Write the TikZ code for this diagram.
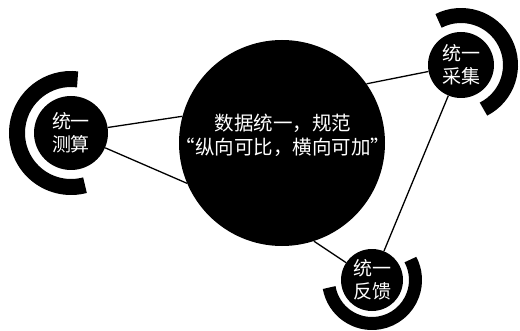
\documentclass[tikz,border=0pt]{standalone}
\usepackage{fontspec}
\setmainfont{Noto Sans CJK SC}
\begin{document}
\begin{tikzpicture}[x=1pt, y=1pt,
    disc/.style={circle, fill=black, text=white, inner sep=0pt, align=center,
      font=\fontsize{19}{23}\selectfont},
    link/.style={line width=1.3pt},
    ring/.style={line width=#1}]
\useasboundingbox (0,0) rectangle (520,330);
\node[disc, minimum size=206pt] (big) at (282,187) {};
\node[text=white, align=center, inner sep=0pt, font=\fontsize{19.5}{24}\selectfont] (slogan) at (283,195) {数据统一，规范\\“纵向可比，横向可加”};
\node[disc, minimum size=74pt] (lt) at (71,197) {统一\\测算};
\node[disc, minimum size=66pt] (tr) at (461,265) {统一\\采集};
\node[disc, minimum size=62pt] (bt) at (372,50) {统一\\反馈};
\draw[ring=16pt] (lt.center) ++(83:54) arc[start angle=83, end angle=285, radius=54];
\draw[ring=15pt] (tr.center) ++(-63:49.5) arc[start angle=-63, end angle=117, radius=49.5];
\draw[ring=13pt] (bt.center) ++(190:43.5) arc[start angle=190, end angle=388, radius=43.5];
\draw[link] (lt) -- (big.165);
\draw[link] (lt) -- (big.203);
\draw[link] (big.35) -- (tr);
\draw[link] (big.-72) -- (bt);
\draw[link] (tr) -- (bt);
\end{tikzpicture}
\end{document}
